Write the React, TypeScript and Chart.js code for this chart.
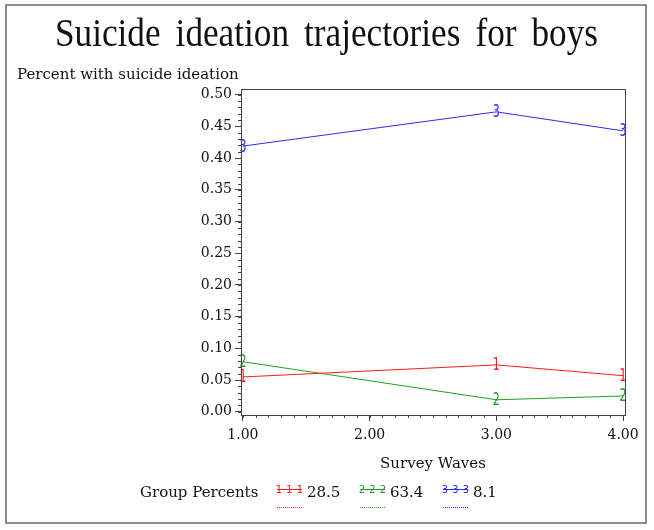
import React, { useEffect, useRef } from "react";
import { Chart, registerables } from "chart.js";

Chart.register(...registerables);

const chartTitle = "Suicide ideation trajectories for boys";
const yAxisTitle = "Percent with suicide ideation";
const xAxisTitle = "Survey Waves";
const legendTitle = "Group Percents";

const waves = [1, 3, 4];
const group1 = [0.055, 0.074, 0.057];
const group2 = [0.079, 0.019, 0.025];
const group3 = [0.419, 0.473, 0.443];
const groupMarkers = ["1", "2", "3"];
const groupPercents = ["28.5", "63.4", "8.1"];
const groupColors = ["#ff1a1a", "#22a022", "#2a2aff"];

const xTicks = [1, 2, 3, 4];
const yTicks = [0, 0.05, 0.1, 0.15, 0.2, 0.25, 0.3, 0.35, 0.4, 0.45, 0.5];
const xMinorStep = 0.1;
const yMinorStep = 0.01;

const SERIF = "'Liberation Serif', 'DejaVu Serif', serif";
const WSERIF = "'DejaVu Serif', 'Liberation Serif', serif";
const AXIS_COLOR = "#444";

const decorPlugin = {
  id: "decor",
  afterDatasetsDraw(chart: any) {
    const ctx = chart.ctx;
    ctx.save();
    ctx.font = `17px 'DejaVu Sans', sans-serif`;
    ctx.textAlign = "center";
    ctx.textBaseline = "middle";
    chart.data.datasets.forEach((ds: any, i: number) => {
      const meta = chart.getDatasetMeta(i);
      ctx.fillStyle = ds.borderColor;
      meta.data.forEach((pt: any) => {
        ctx.save();
        ctx.translate(pt.x, pt.y);
        ctx.scale(0.65, 1);
        ctx.fillText(ds.marker, 0, 1);
        ctx.restore();
      });
    });
    ctx.restore();
  },
  afterDraw(chart: any) {
    const ctx = chart.ctx;
    const a = chart.chartArea;
    const xs = chart.scales.x;
    const ys = chart.scales.y;
    ctx.save();
    // outer frame
    ctx.strokeStyle = "#666";
    ctx.lineWidth = 1.5;
    ctx.strokeRect(6, 5, 640, 518);
    // plot box
    ctx.strokeStyle = AXIS_COLOR;
    ctx.lineWidth = 1;
    ctx.strokeRect(Math.round(a.left) + 0.5, Math.round(a.top) + 0.5, Math.round(a.right - a.left), Math.round(a.bottom - a.top));
    // minor ticks
    ctx.beginPath();
    const x0 = Math.ceil(xs.min / xMinorStep);
    const x1 = Math.floor(xs.max / xMinorStep);
    for (let i = x0; i <= x1; i++) {
      const px = Math.round(xs.getPixelForValue(i * xMinorStep)) + 0.5;
      ctx.moveTo(px, a.bottom);
      ctx.lineTo(px, a.bottom + 3);
    }
    const y0 = Math.ceil(ys.min / yMinorStep);
    const y1 = Math.floor(ys.max / yMinorStep);
    for (let i = y0; i <= y1; i++) {
      const py = Math.round(ys.getPixelForValue(i * yMinorStep)) + 0.5;
      ctx.moveTo(a.left, py);
      ctx.lineTo(a.left - 3, py);
    }
    ctx.stroke();

    // title
    ctx.fillStyle = "#111";
    ctx.textBaseline = "alphabetic";
    ctx.textAlign = "left";
    ctx.font = `40px ${SERIF}`;
    ctx.save();
    ctx.translate(55, 46);
    const words = chartTitle.split(" ");
    const ws = words.map((w) => ctx.measureText(w).width);
    const sx = 0.88;
    const inkW = ws.reduce((s, w) => s + w * sx, 0);
    const gap = (543 - inkW) / (words.length - 1);
    let cx = 0;
    words.forEach((w, i) => {
      ctx.save();
      ctx.translate(cx, 0);
      ctx.scale(sx, 1);
      ctx.fillText(w, 0, 0);
      ctx.restore();
      cx += ws[i] * sx + gap;
    });
    ctx.restore();

    // y axis title
    ctx.font = `15px ${WSERIF}`;
    ctx.fillText(yAxisTitle, 17, 79);

    // x axis title
    ctx.textAlign = "center";
    ctx.fillText(xAxisTitle, (a.left + a.right) / 2, 468);

    // legend
    ctx.textAlign = "left";
    ctx.fillText(legendTitle, 140, 497);
    const starts = [277, 360, 443];
    chart.data.datasets.forEach((ds: any, i: number) => {
      const lx = starts[i];
      const ly = 489;
      ctx.strokeStyle = ds.borderColor;
      ctx.lineWidth = 1;
      ctx.beginPath();
      ctx.moveTo(lx, ly + 0.5);
      ctx.lineTo(lx + 25, ly + 0.5);
      ctx.stroke();
      ctx.fillStyle = ds.borderColor;
      ctx.font = `10px 'DejaVu Sans', sans-serif`;
      ctx.textAlign = "center";
      ctx.textBaseline = "middle";
      [2, 12.5, 23].forEach((dx) => ctx.fillText(ds.marker, lx + dx, ly + 1));
      // dotted line below
      ctx.setLineDash([1, 1]);
      ctx.beginPath();
      ctx.moveTo(lx, 507.5);
      ctx.lineTo(lx + 25, 507.5);
      ctx.stroke();
      ctx.setLineDash([]);
      ctx.fillStyle = "#111";
      ctx.font = `15px ${WSERIF}`;
      ctx.textAlign = "left";
      ctx.textBaseline = "alphabetic";
      ctx.fillText(ds.label, lx + 30, 497);
    });
    ctx.restore();
  },
};

export default function App() {
  const ref = useRef<HTMLCanvasElement | null>(null);
  useEffect(() => {
    if (!ref.current) return;
    const series = [group1, group2, group3];
    const chart = new Chart(ref.current, {
      type: "line",
      data: {
        datasets: series.map((vals, i) => ({
          label: groupPercents[i],
          marker: groupMarkers[i],
          data: waves.map((w, j) => ({ x: w, y: vals[j] })),
          borderColor: groupColors[i],
          backgroundColor: groupColors[i],
          borderWidth: 1,
          pointRadius: 0,
          tension: 0,
          fill: false,
        })) as any,
      },
      options: {
        animation: false,
        responsive: false,
        maintainAspectRatio: false,
        layout: { padding: { top: 89, right: 29, left: 0, bottom: 0 } },
        plugins: { legend: { display: false }, title: { display: false }, tooltip: { enabled: false } },
        scales: {
          x: {
            type: "linear",
            min: 0.985,
            max: 4.015,
            afterBuildTicks: (s: any) => {
              s.ticks = xTicks.map((v) => ({ value: v }));
            },
            afterFit: (s: any) => {
              s.height = 115;
            },
            ticks: {
              color: "#111",
              font: { family: WSERIF, size: 14 },
              padding: 6,
              maxRotation: 0,
              autoSkip: false,
              callback: (v: any) => Number(v).toFixed(2),
            },
            grid: { drawOnChartArea: false, tickLength: 6, color: AXIS_COLOR },
            border: { color: AXIS_COLOR },
          },
          y: {
            type: "linear",
            min: -0.005,
            max: 0.509,
            afterBuildTicks: (s: any) => {
              s.ticks = yTicks.map((v) => ({ value: v }));
            },
            afterFit: (s: any) => {
              s.width = 241;
            },
            ticks: {
              color: "#111",
              font: { family: WSERIF, size: 14 },
              padding: 3,
              autoSkip: false,
              callback: (v: any) => Number(v).toFixed(2),
            },
            grid: { drawOnChartArea: false, tickLength: 6, color: AXIS_COLOR },
            border: { color: AXIS_COLOR },
          },
        },
      },
      plugins: [decorPlugin],
    });
    return () => chart.destroy();
  }, []);
  return (
    <div style={{ position: "absolute", left: 0, top: 0, width: 654, height: 530, background: "#fff" }}>
      <canvas ref={ref} width={654} height={530} style={{ width: 654, height: 530, display: "block" }} />
    </div>
  );
}
